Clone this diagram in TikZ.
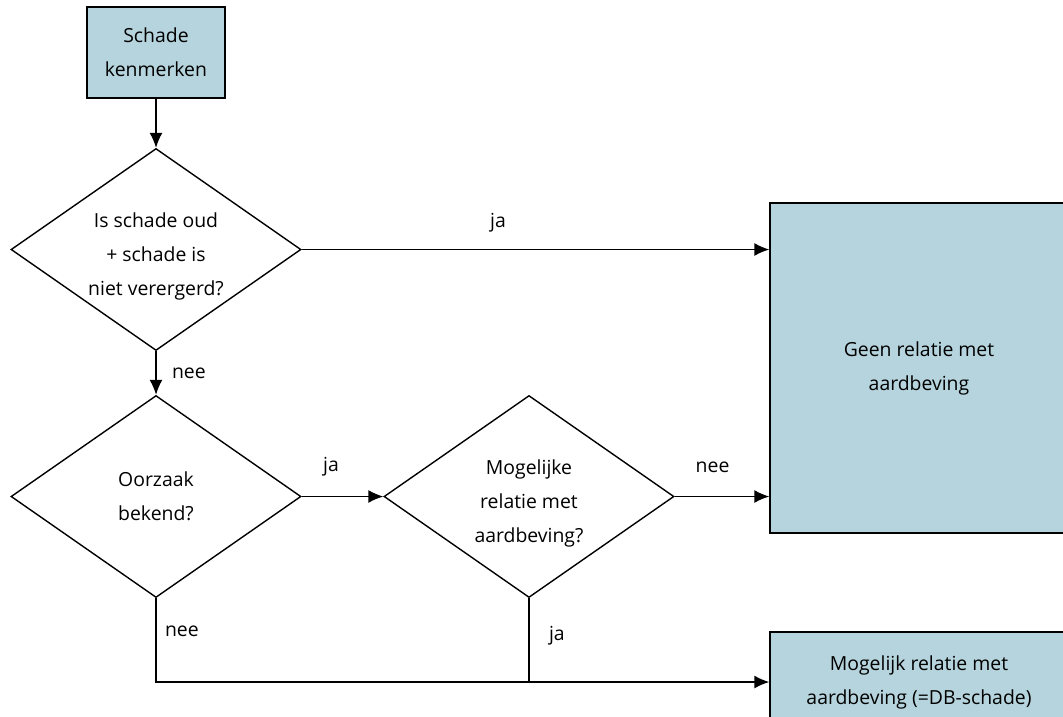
\documentclass[tikz,border=0pt]{standalone}
\usepackage{fontspec}
\setmainfont{Open Sans}
\usepackage{tikz}
\usetikzlibrary{
  calc,
  shapes.geometric, % for diamond
  arrows.meta}
\definecolor{schadeblauw}{RGB}{182,212,221}
\tikzstyle{kort} = [node distance = 197pt]
\tikzstyle{lang} = [node distance = 373pt]
\tikzstyle{stap} = [draw, fill=schadeblauw, align=center, inner sep=0pt]
\tikzstyle{vraag} = [draw, diamond, align=center, inner sep=-10pt, shape aspect=1.43, minimum width=290pt, minimum height=202pt]
\tikzstyle{uitkomst} = [stap, minimum width=298pt]

\begin{document}
\begin{tikzpicture}[x=1pt, y=-1pt, node distance=247pt, line width=1.4pt,
  font=\fontsize{19.4}{34}\selectfont, >={Latex[length=15pt,width=13pt]}]

\useasboundingbox (0,0) rectangle (1063,716);
\clip (0,0) rectangle (1063,716);

\node[stap, minimum width=138pt, minimum height=91pt] (kenmerk) at (156,52.5) {Schade\\kenmerken};
\node[vraag, kort, below of=kenmerk] (oud) {\rule{0pt}{29pt}Is schade oud\\+ schade is\\niet verergerd?};
\node[vraag, below of=oud] (oorzaak) {Oorzaak\\bekend?};
\node[vraag, lang, right of=oorzaak] (mogelijk) {\rule{0pt}{29pt}Mogelijke\\relatie met\\aardbeving?};
\node[uitkomst, minimum height=330pt] (geen) at (919,368) {Geen relatie met\\aardbeving};
\node[uitkomst, minimum height=100pt] (mogrel) at (919,682) {Mogelijk relatie met\\aardbeving (=DB-schade)};

\draw[->] (kenmerk) -- (oud);
\draw[->] (oud) -- (oud -| geen.west) node[pos=.42, above=13pt] {ja};
\draw[->] (oud) -- (oorzaak) node[midway, right=12pt] {nee};
\draw[->] (oorzaak) -- (mogelijk) node[pos=.36, above=16pt] {ja};
\draw[->] (mogelijk) -- (mogelijk -| geen.west) node[pos=.4, above=20pt] {nee};
\draw[->] (oorzaak) |- (mogrel) node[pos=.2, right=5pt] {nee};
\draw (mogelijk) -- (mogelijk |- mogrel.west) node[pos=.45, right=16pt] {ja};

\end{tikzpicture}
\end{document}
